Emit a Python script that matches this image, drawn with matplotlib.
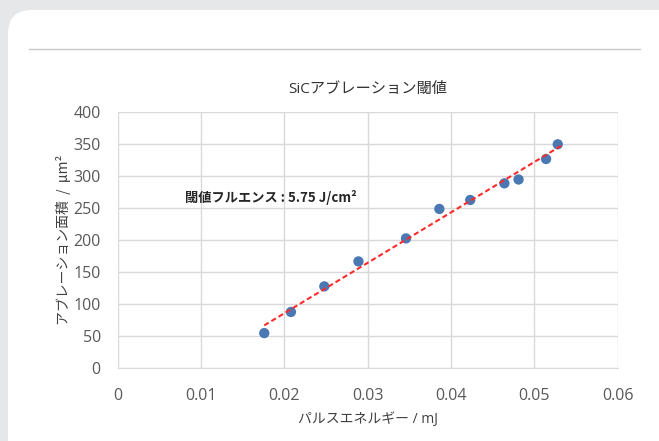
import numpy as np
import matplotlib.pyplot as plt
from matplotlib.patches import FancyBboxPatch
from matplotlib.lines import Line2D

plt.rcParams['font.family'] = ['Open Sans', 'Noto Sans CJK JP', 'DejaVu Sans']

# pulse energy (mJ) vs ablation area (um^2)
energy = [0.0176, 0.0208, 0.0248, 0.0289, 0.0346, 0.0386, 0.0423, 0.0464, 0.0481, 0.0514, 0.0528]
area = [55, 88, 128, 167, 203, 249, 263, 289, 295, 327, 350]

title = 'SiCアブレーション閾値'
xlabel = 'パルスエネルギー / mJ'
ylabel = 'アブレーション面積  /  μm²'
note = '閾値フルエンス : 5.75 J/cm²'

W, H = 659, 441
fig = plt.figure(figsize=(W / 100, H / 100), dpi=100)
fig.patch.set_facecolor('#e6e7e9')

# white card with rounded top-left corner
card = FancyBboxPatch((8, -60), 720, H - 10 + 60,
                      boxstyle='round,pad=0,rounding_size=24',
                      transform=None, facecolor='white', edgecolor='none', zorder=0)
fig.add_artist(card)
fig.add_artist(Line2D([29 / W, 640 / W], [1 - 49 / H, 1 - 49 / H], transform=fig.transFigure,
                      color='#c8c8c8', linewidth=1.0))

ax = fig.add_axes([117.5 / W, 1 - 368.3 / H, (617.8 - 117.5) / W, (368.3 - 112.3) / H])
ax.set_facecolor('none')

ax.scatter(energy, area, s=55, color='#4a78b3', zorder=3, edgecolors='none')

# linear trend line
k, b = np.polyfit(energy, area, 1)
xs = np.array([min(energy), max(energy) + 0.0006])
ax.plot(xs, k * xs + b, color='#ff2a2a', linestyle=(0, (2.5, 1.5)), linewidth=1.5, zorder=4)

ax.set_xlim(0, 0.06)
ax.set_ylim(0, 400)
ax.set_xticks(np.arange(0, 0.061, 0.01))
ax.set_yticks(np.arange(0, 401, 50))
ax.set_xticklabels(['0', '0.01', '0.02', '0.03', '0.04', '0.05', '0.06'])
ax.grid(True, color='#d9d9d9', linewidth=1.0, zorder=1)
ax.set_axisbelow(True)
for s in ['top', 'right', 'left']:
    ax.spines[s].set_visible(False)
ax.spines['bottom'].set_color('#d9d9d9')
ax.tick_params(length=0, labelsize=11.5, colors='#595959')
ax.tick_params(axis='x', pad=14)
ax.tick_params(axis='y', pad=12)

ax.set_title(title, fontsize=11, color='#333333', pad=14)
ax.set_xlabel(xlabel, fontsize=10, color='#404040', labelpad=6)
ax.set_ylabel(ylabel, fontsize=10, color='#404040', labelpad=2,
              family=['Noto Sans CJK JP', 'DejaVu Sans'])

ax.text(0.0081, 267, note, fontsize=9.5, fontweight='bold', color='#262626',
        va='center', ha='left', family=['Noto Sans CJK JP', 'DejaVu Sans'])

fig.savefig('out.png', dpi=100, facecolor=fig.get_facecolor())
